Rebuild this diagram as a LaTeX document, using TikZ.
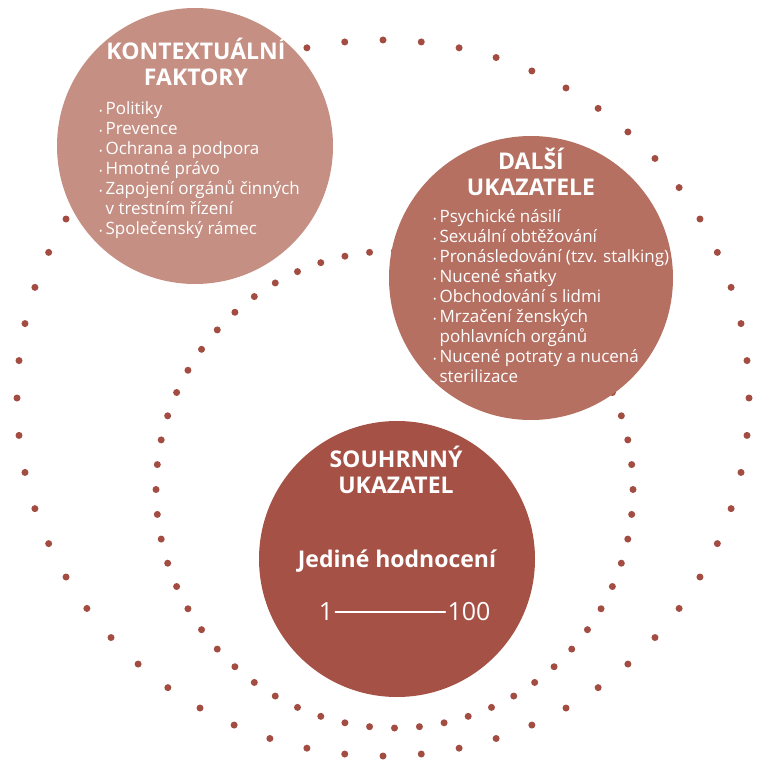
\documentclass[tikz,border=0pt]{standalone}
\usepackage{fontspec}
\setmainfont{Open Sans}
\usetikzlibrary{positioning}
\definecolor{lightrose}{HTML}{C58F83}
\definecolor{midrose}{HTML}{B57062}
\definecolor{darkrose}{HTML}{A65146}
\definecolor{dotred}{HTML}{A24C42}
\tikzset{x=1pt, y=-1pt,
  bubble/.style={circle, inner sep=0pt},
  heading/.style={text=white, font=\bfseries\fontsize{23}{26}\selectfont, align=center, anchor=base},
  items/.style={text=white, font=\fontsize{17}{20}\selectfont, align=left, anchor=base west, inner sep=0pt},
  scalenum/.style={text=white, font=\fontsize{25}{25}\selectfont, inner sep=2pt},
}
\newcommand\bul{{\fontsize{9}{9}\selectfont\textbullet}\hspace{3pt}}
\newcommand\ind{\hphantom{\bul}}

\begin{document}
\begin{tikzpicture}
  \useasboundingbox (0,0) rectangle (764,760);

  % dotted rings
  \foreach \a in {0,6,...,354}{
    \fill[dotred] (383,398) ++(\a:366 and 358) circle[radius=3.5pt];
    \fill[dotred] (394.5,489.5) ++(\a:238.5) circle[radius=3.5pt];
  }

  \node[bubble, fill=lightrose, minimum size=276pt] (kontext) at (195,146) {};
  \node[bubble, fill=midrose, minimum size=284pt] (dalsi) at (531,278) {};
  \node[bubble, fill=darkrose, minimum size=276pt] (souhrn) at (397,559) {};

  % base anchor sits on the last line
  \node[heading] (kontextT) at (196,86) {KONTEXTUÁLNÍ\\FAKTORY};
  \node[items] (kontextL) at (99,234) {\bul Politiky\\ \bul Prevence\\ \bul Ochrana a podpora\\
    \bul Hmotné právo\\ \bul Zapojení orgánů činných\\ \ind v trestním řízení\\ \bul Společenský rámec};

  \node[heading] (dalsiT) at (531,195) {DALŠÍ\\UKAZATELE};
  \node[items] (dalsiL) at (433,382) {\bul Psychické násilí\\ \bul Sexuální obtěžování\\
    \bul Pronásledování (tzv. stalking)\\ \bul Nucené sňatky\\ \bul Obchodování s lidmi\\
    \bul Mrzačení ženských\\ \ind pohlavních orgánů\\ \bul Nucené potraty a nucená\\ \ind sterilizace};

  \node[heading] (souhrnT) at (396,493) {SOUHRNNÝ\\UKAZATEL};
  \node[heading] (hodnoceni) at (397,567) {Jediné hodnocení};

  \node[scalenum] (low) at (326,612) {1};
  \node[scalenum] (high) at (469,612) {100};
  \draw[white, line width=1.5pt, line cap=round] (low) -- (high);
\end{tikzpicture}
\end{document}
